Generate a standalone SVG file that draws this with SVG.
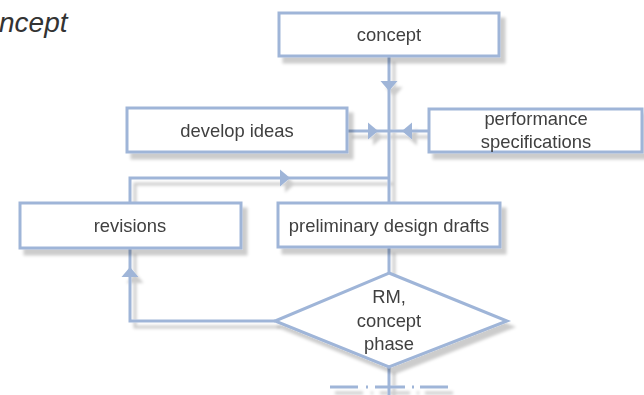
<svg xmlns="http://www.w3.org/2000/svg" width="644" height="395" viewBox="0 0 644 395">
<defs>
<style>
.box{fill:#fff;stroke:#9fb5d8;stroke-width:3}
.ln{fill:none;stroke:#9fb5d8;stroke-width:3}
.t{font-family:"Liberation Sans",Arial,Helvetica,sans-serif;font-size:18.4px;fill:#404040;text-anchor:middle}
.ttl{font-family:"Liberation Sans",Arial,Helvetica,sans-serif;font-size:28px;font-style:italic;fill:#333}
.ah{fill:#9fb5d8}
</style>
<filter id="sh" x="-10%" y="-20%" width="130%" height="160%">
<feDropShadow dx="5" dy="6" stdDeviation="1.8" flood-color="#000" flood-opacity="0.2"/>
</filter>
<path id="tri" d="M0,0 L-10,-8.5 L-10,8.5 Z"/>
</defs>
<rect width="644" height="395" fill="#fff"/>
<text class="ttl" x="-1" y="32">ncept</text>
<g id="connectors" filter="url(#sh)">
<path class="ln" d="M389,56 V203"/>
<path class="ln" d="M389,247 V273"/>
<path class="ln" d="M389,367 V395"/>
<path class="ln" d="M347,131 H389"/>
<path class="ln" d="M429,131 H389"/>
<path class="ln" d="M130,203 V178 H389"/>
<path class="ln" d="M275,321 H130 V248"/>
<path class="ln" d="M330,387 H358 M366,387 H368 M375,387 H405 M412,387 H414 M420,387 H448"/>
<use href="#tri" class="ah" transform="translate(389,91) rotate(90)"/>
<use href="#tri" class="ah" transform="translate(378,131)"/>
<use href="#tri" class="ah" transform="translate(402,131) rotate(180)"/>
<use href="#tri" class="ah" transform="translate(290,178)"/>
<use href="#tri" class="ah" transform="translate(130,267) rotate(-90)"/>
</g>
<g id="concept" filter="url(#sh)">
<rect class="box" x="279" y="13" width="220" height="43"/>
<text class="t" x="389" y="41">concept</text>
</g>
<g id="develop-ideas" filter="url(#sh)">
<rect class="box" x="127" y="108" width="220" height="44"/>
<text class="t" x="237" y="137">develop ideas</text>
</g>
<g id="performance-specifications" filter="url(#sh)">
<rect class="box" x="429" y="109" width="213" height="43"/>
<text class="t" x="536" y="125">performance</text>
<text class="t" x="536" y="148">specifications</text>
</g>
<g id="revisions" filter="url(#sh)">
<rect class="box" x="20" y="203" width="221" height="45"/>
<text class="t" x="130" y="232">revisions</text>
</g>
<g id="preliminary-design-drafts" filter="url(#sh)">
<rect class="box" x="278" y="203" width="222" height="44"/>
<text class="t" x="389" y="232">preliminary design drafts</text>
</g>
<g id="rm-concept-phase" filter="url(#sh)">
<polygon class="box" points="389,273 507,321 389,367 275,321"/>
<text class="t" x="389" y="303">RM,</text>
<text class="t" x="389" y="327">concept</text>
<text class="t" x="389" y="350">phase</text>
</g>
</svg>
